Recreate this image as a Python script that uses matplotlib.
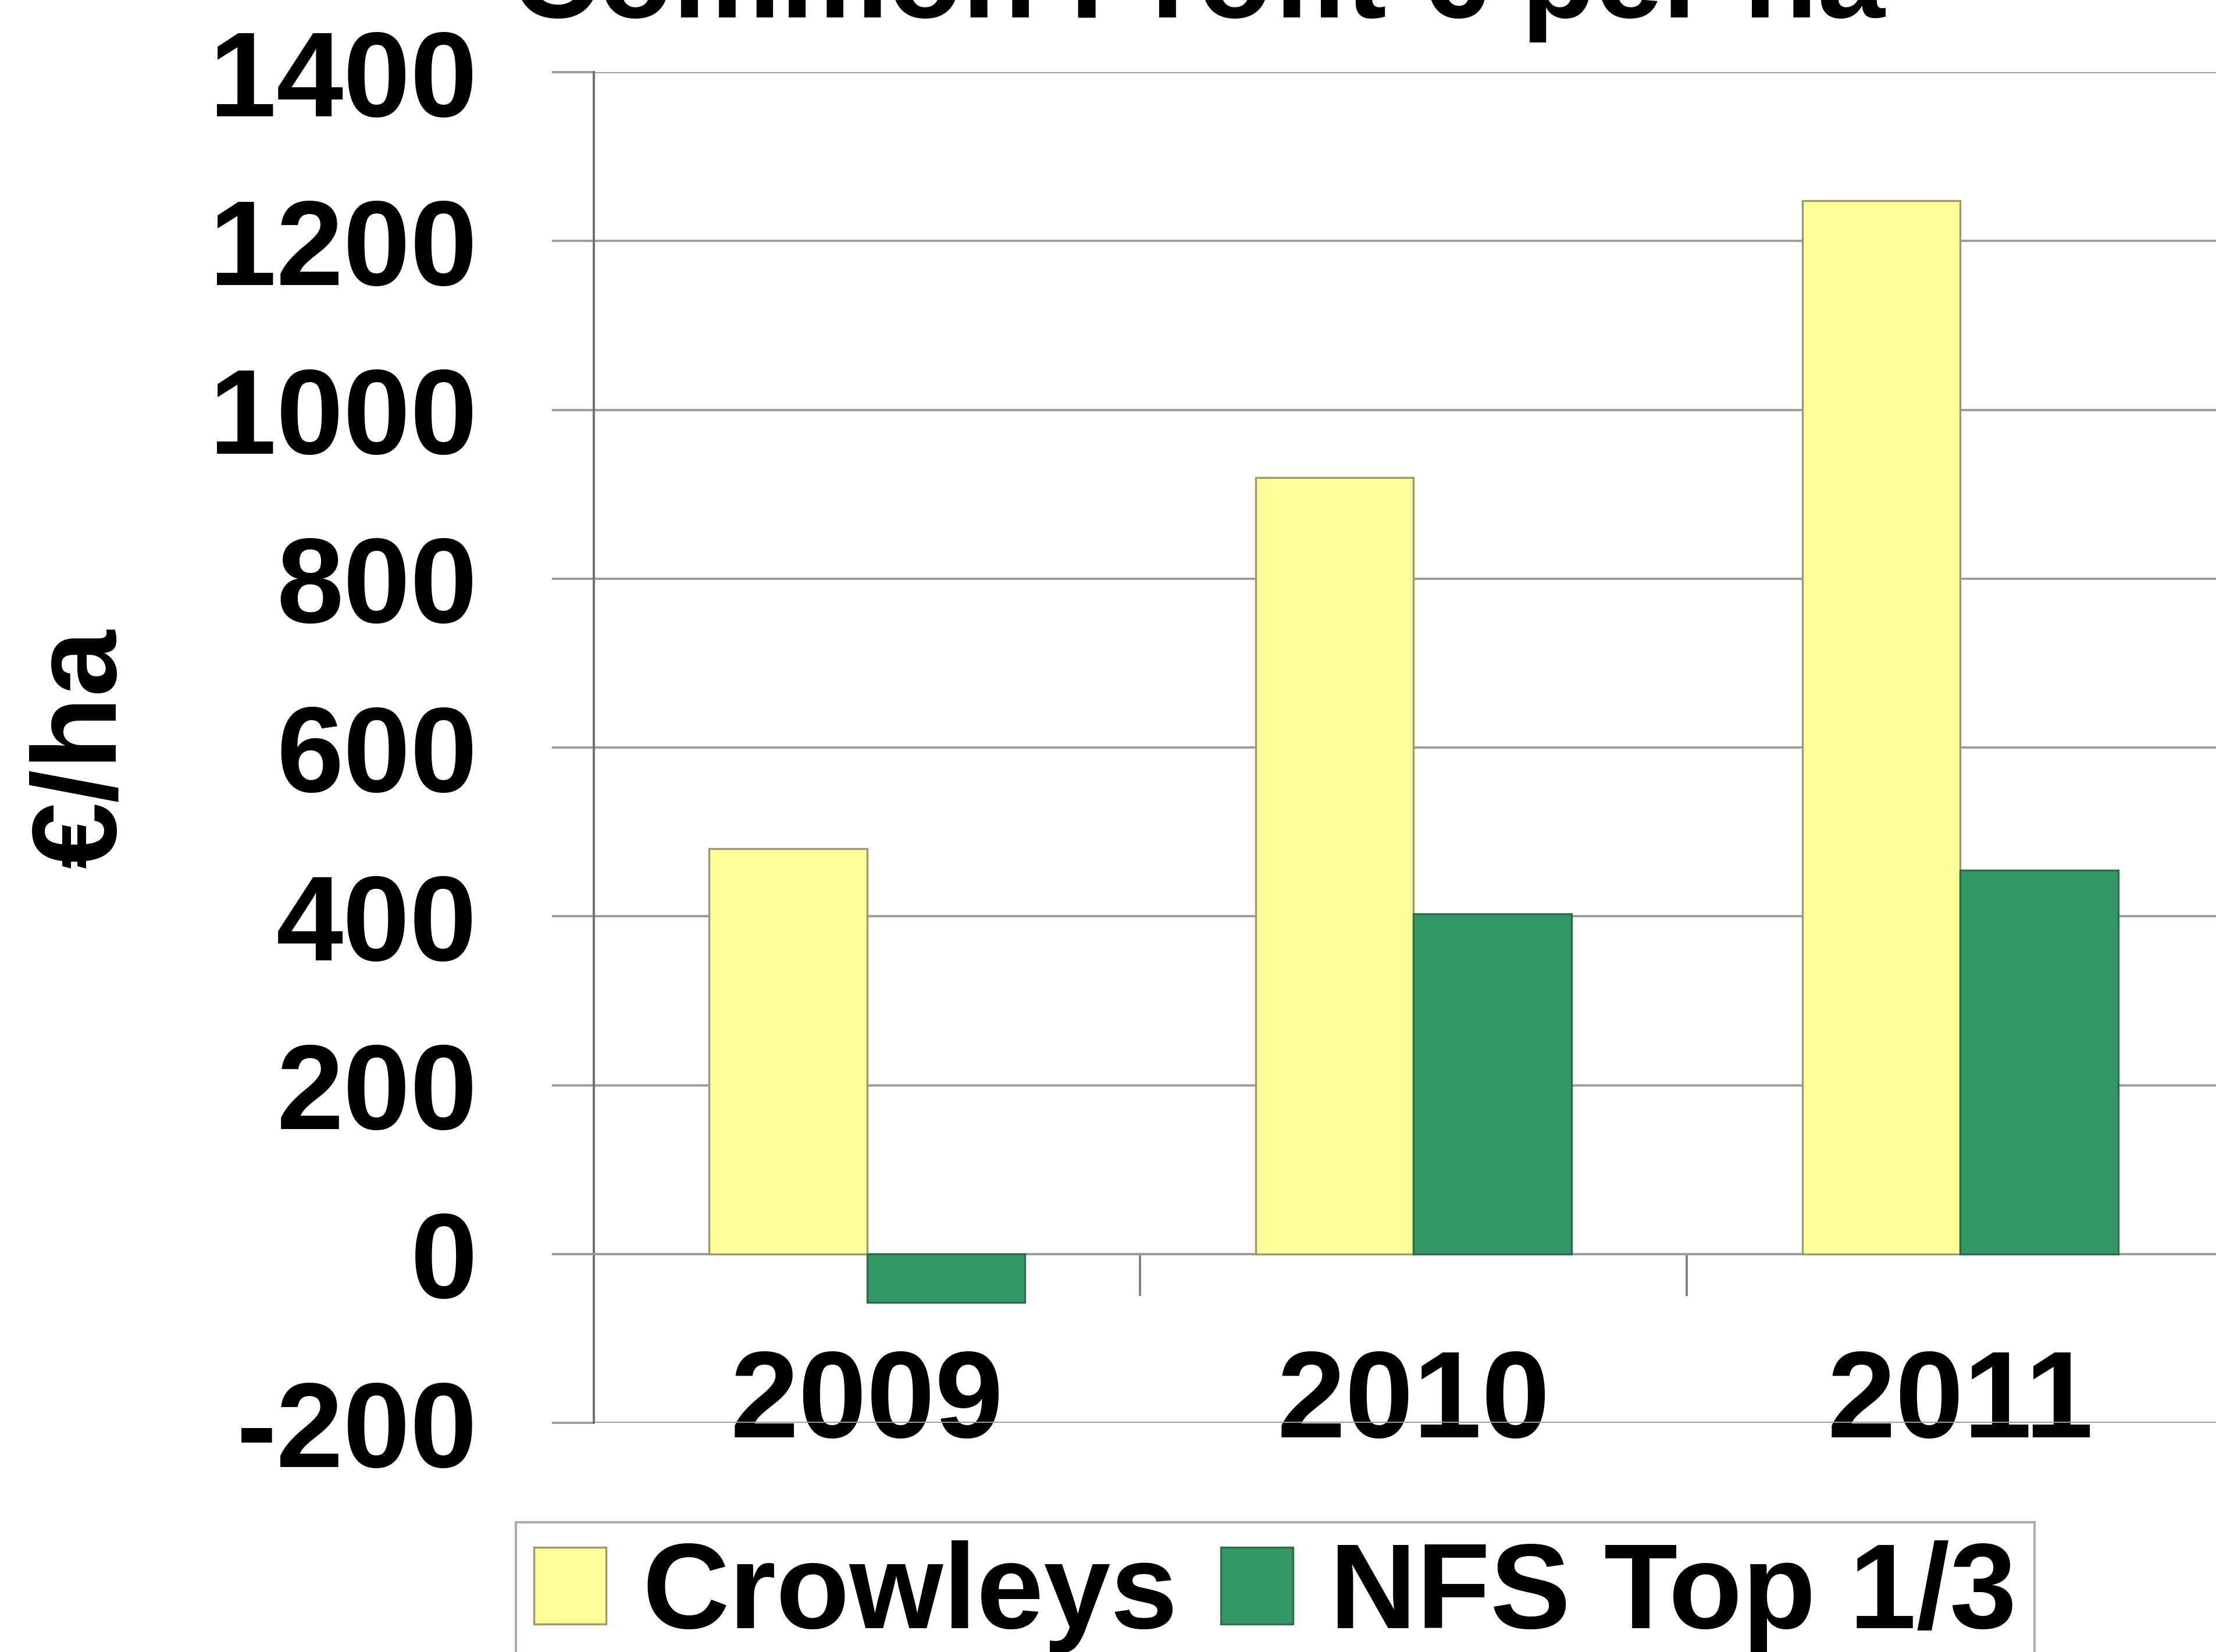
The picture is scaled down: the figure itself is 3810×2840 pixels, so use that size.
import matplotlib
matplotlib.use('Agg')
import matplotlib.pyplot as plt
import numpy as np

years = ['2009', '2010', '2011']
crowleys = [480, 920, 1248]
nfs_top = [-57, 403, 455]
y_ticks = [-200, 0, 200, 400, 600, 800, 1000, 1200, 1400]

plt.rcParams['font.family'] = ['Liberation Sans', 'DejaVu Sans']
plt.rcParams['font.weight'] = 'bold'

fig = plt.figure(figsize=(38.1, 28.4), dpi=100)
ax = fig.add_axes([0.2679, 0.1387, 0.7400, 0.8176])

x = np.arange(len(years))
w = 0.289
ax.bar(x - w/2, crowleys, w, color='#FFFF99', edgecolor='#9C9868', linewidth=2.4,
       label='Crowleys', zorder=3)
ax.bar(x + w/2, nfs_top, w, color='#339966', edgecolor='#2E6B4B', linewidth=2.4,
       label='NFS Top 1/3', zorder=3)

ax.set_xlim(-0.5, 2.5)
ax.set_ylim(-200, 1400)
ax.set_yticks(y_ticks)
ax.set_yticklabels([str(v) for v in y_ticks], fontsize=149, fontweight='bold')
ax.yaxis.grid(True, color='#9C9C9C', linewidth=2.8, zorder=0)
ax.tick_params(axis='y', length=52, width=2.8, color='#9C9C9C', pad=92)

# category axis sits on the zero line
ax.spines['bottom'].set_position(('data', 0))
ax.spines['bottom'].set_color('#9C9C9C')
ax.spines['bottom'].set_linewidth(2.8)
ax.set_xticks(x)
ax.set_xticklabels(years, fontsize=152, fontweight='bold')
ax.set_xticks([0.5, 1.5], minor=True)
ax.tick_params(axis='x', which='major', length=0, pad=116)
ax.tick_params(axis='x', which='minor', length=52, width=2.8, color='#808080')

ax.spines['left'].set_color('#707070')
ax.spines['left'].set_linewidth(2.8)
ax.spines['top'].set_visible(False)
ax.spines['right'].set_visible(False)

# title is partly cropped off the top, as in the source image
fig.text(0.5407, 0.9894, 'Common Profit € per ha', ha='center', va='baseline',
         fontsize=150, fontweight='bold')
fig.text(0.0383, 0.5468, '€/ha', ha='center', va='center', rotation=90,
         fontsize=148, fontweight='bold')

leg = fig.legend(loc='upper left', bbox_to_anchor=(0.2328, 0.0785), ncol=2,
                 prop={'size': 149, 'weight': 'bold'}, frameon=True, fancybox=False,
                 handlelength=0.6, handleheight=0.6, handletextpad=0.3,
                 columnspacing=0.36, borderpad=0.15, borderaxespad=0)
leg.get_frame().set_edgecolor('#999999')
leg.get_frame().set_linewidth(3)

fig.savefig('out.png', dpi=100)
